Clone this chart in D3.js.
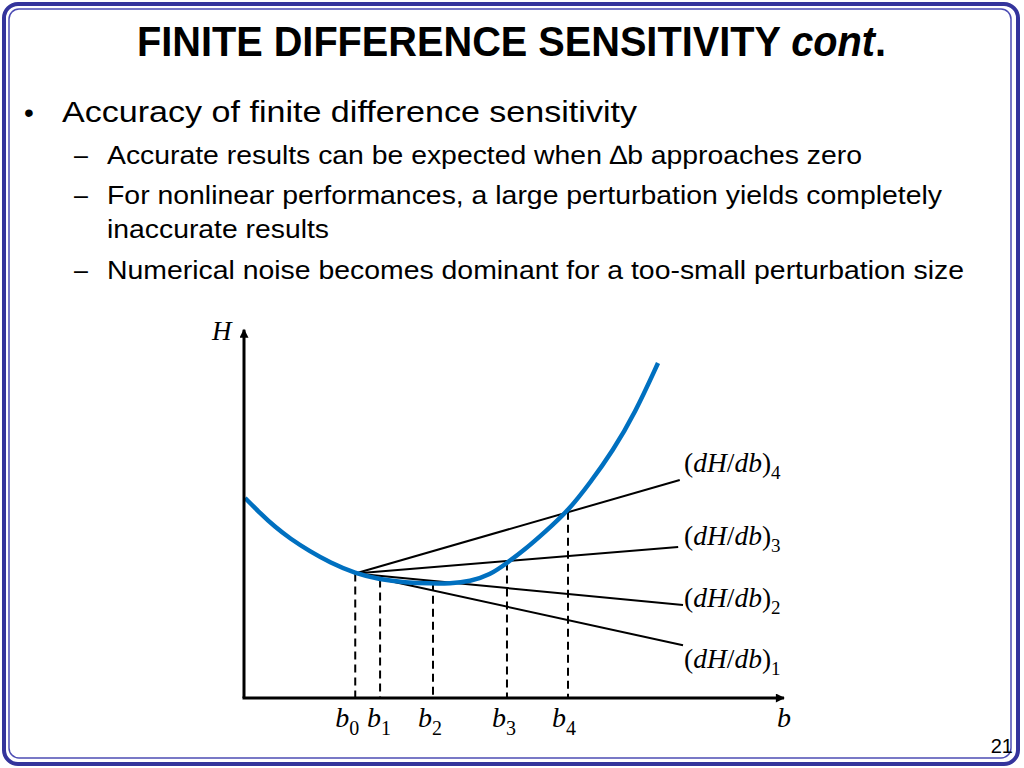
<!DOCTYPE html>
<html>
<head>
<meta charset="utf-8">
<script src="https://cdn.jsdelivr.net/npm/d3@7"></script>
<style>
  body { margin: 0; background: #fff; }
  svg { display: block; }
  .sans { font-family: "Liberation Sans", Arial, sans-serif; }
  .math { font-family: "Liberation Serif", "Times New Roman", serif; }
</style>
</head>
<body>
<svg id="slide" width="1024" height="768"></svg>
<script>
"use strict";

// curve H(b)
const curveB = [0.19, 2.96, 5.74, 8.52, 12.22, 15.93, 20.56, 25.19, 29.81, 34.44, 38.15, 41.85, 45.56, 48.70, 52.04, 55.74, 60.0, 64.07, 68.33, 72.41, 76.67];
const curveH = [53.76, 49.73, 45.97, 42.88, 39.38, 36.42, 33.47, 31.85, 31.05, 30.78, 30.78, 31.32, 33.06, 36.29, 39.92, 44.62, 50.27, 57.80, 66.53, 76.61, 90.05];

// perturbed points b0..b4 and H at them
const pertB = [20.6, 25.2, 35.0, 48.7, 60.0];
const pertH = [33.47, 31.85, 31.0, 36.4, 50.1];
const pertLabels = ['0', '1', '2', '3', '4'];

// secant lines (dH/db)1..4, end points
const secEndB = [81.3, 81.3, 80.4, 80.7];
const secEndH = [14.2, 25.0, 40.6, 58.6];
const secLabels = ['1', '2', '3', '4'];

const title = 'FINITE DIFFERENCE SENSITIVITY';
const bullets = [
  {lvl: 0, text: 'Accuracy of finite difference sensitivity'},
  {lvl: 1, text: 'Accurate results can be expected when \u2206b approaches zero'},
  {lvl: 1, text: 'For nonlinear performances, a large perturbation yields completely'},
  {lvl: 2, text: 'inaccurate results'},
  {lvl: 1, text: 'Numerical noise becomes dominant for a too-small perturbation size'}
];

const svg = d3.select('#slide');

// slide frame
svg.append('rect').attr('x', 4).attr('y', 4).attr('width', 1014).attr('height', 760)
  .attr('rx', 14).attr('fill', '#fff').attr('stroke', '#34349c').attr('stroke-width', 4);
svg.append('rect').attr('x', 9).attr('y', 9).attr('width', 1002).attr('height', 749)
  .attr('rx', 10).attr('fill', 'none').attr('stroke', '#4c4cb4').attr('stroke-width', 1.5);

// title, squeezed to the reference width
const tg = svg.append('g');
const t = tg.append('text').attr('x', 0).attr('y', 0)
  .attr('class', 'sans').attr('font-weight', 'bold').attr('font-size', 42);
t.append('tspan').text(title + ' ');
t.append('tspan').attr('font-style', 'italic').text('cont');
t.append('tspan').text('.');
const tw = t.node().getComputedTextLength();
tg.attr('transform', `translate(137,56) scale(${749 / tw},1)`);

// bullets
const lineY = [122, 164, 204, 238, 279];
const lineW = [575, 755, 835, 222, 857];
bullets.forEach((b, i) => {
  const size = b.lvl === 0 ? 30 : 26.5;
  if (b.lvl === 0) {
    svg.append('text').attr('class', 'sans').attr('x', 24).attr('y', lineY[i])
      .attr('font-size', 28).text('\u2022');
  } else if (b.lvl === 1) {
    svg.append('text').attr('class', 'sans').attr('x', 74).attr('y', lineY[i])
      .attr('font-size', 25).text('\u2013');
  }
  svg.append('text').attr('class', 'sans').attr('x', b.lvl === 0 ? 62 : 107).attr('y', lineY[i])
    .attr('font-size', size).attr('textLength', lineW[i]).attr('lengthAdjust', 'spacingAndGlyphs')
    .text(b.text);
});

// page number
svg.append('text').attr('class', 'sans').attr('x', 1013).attr('y', 753)
  .attr('text-anchor', 'end').attr('font-size', 20).text('21');

// chart
const x = d3.scaleLinear().domain([0, 100]).range([244, 784]);
const y = d3.scaleLinear().domain([0, 100]).range([698, 326]);

const defs = svg.append('defs');
defs.append('marker').attr('id', 'arrow').attr('viewBox', '0 0 10 10')
  .attr('refX', 9).attr('refY', 5).attr('markerWidth', 10).attr('markerHeight', 9)
  .attr('markerUnits', 'userSpaceOnUse').attr('orient', 'auto')
  .append('path').attr('d', 'M0,0 L10,5 L0,10 Z').attr('fill', '#000');

const g = svg.append('g');

// dashed drops
g.selectAll('line.drop').data(pertB).enter().append('line')
  .attr('class', 'drop')
  .attr('x1', d => x(d)).attr('x2', d => x(d))
  .attr('y1', (d, i) => y(pertH[i])).attr('y2', y(0))
  .attr('stroke', '#000').attr('stroke-width', 2).attr('stroke-dasharray', '8,5');

// secants
g.selectAll('line.sec').data(secEndB).enter().append('line')
  .attr('class', 'sec')
  .attr('x1', x(pertB[0])).attr('y1', y(pertH[0]))
  .attr('x2', d => x(d)).attr('y2', (d, i) => y(secEndH[i]))
  .attr('stroke', '#000').attr('stroke-width', 2);

// curve
const line = d3.line().x(d => x(d[0])).y(d => y(d[1])).curve(d3.curveBasis);
g.append('path').datum(d3.zip(curveB, curveH))
  .attr('d', line).attr('fill', 'none')
  .attr('stroke', '#0070c0').attr('stroke-width', 4.5);

// axes
g.append('line').attr('x1', x(0)).attr('y1', y(0)).attr('x2', x(0)).attr('y2', y(99))
  .attr('stroke', '#000').attr('stroke-width', 3).attr('marker-end', 'url(#arrow)');
g.append('line').attr('x1', x(0) - 1.5).attr('y1', y(0)).attr('x2', x(100)).attr('y2', y(0))
  .attr('stroke', '#000').attr('stroke-width', 3).attr('marker-end', 'url(#arrow)');

// axis names
g.append('text').attr('class', 'math').attr('x', x(0) - 32).attr('y', 340)
  .attr('font-size', 27).attr('font-style', 'italic').text('H');
g.append('text').attr('class', 'math').attr('x', x(100) - 7).attr('y', 727)
  .attr('font-size', 28).attr('font-style', 'italic').text('b');

// b_i labels
const bDx = [-8, -1, -3, -3, -4];
pertB.forEach((b, i) => {
  const tx = g.append('text').attr('class', 'math').attr('x', x(b) + bDx[i]).attr('y', 727)
    .attr('text-anchor', 'middle').attr('font-size', 28);
  tx.append('tspan').attr('font-style', 'italic').text('b');
  tx.append('tspan').attr('font-size', 20).attr('dy', 8).text(pertLabels[i]);
});

// secant labels
const labelDy = [23, 2, -2, -8];
secEndB.forEach((b, i) => {
  const tx = g.append('text').attr('class', 'math').attr('x', 684)
    .attr('y', y(secEndH[i]) + labelDy[i]).attr('font-size', 27.5);
  tx.append('tspan').text('(');
  tx.append('tspan').attr('font-style', 'italic').text('dH');
  tx.append('tspan').text('/');
  tx.append('tspan').attr('font-style', 'italic').text('db');
  tx.append('tspan').text(')');
  tx.append('tspan').attr('font-size', 19).attr('dy', 7).text(secLabels[i]);
});
</script>
</body>
</html>
